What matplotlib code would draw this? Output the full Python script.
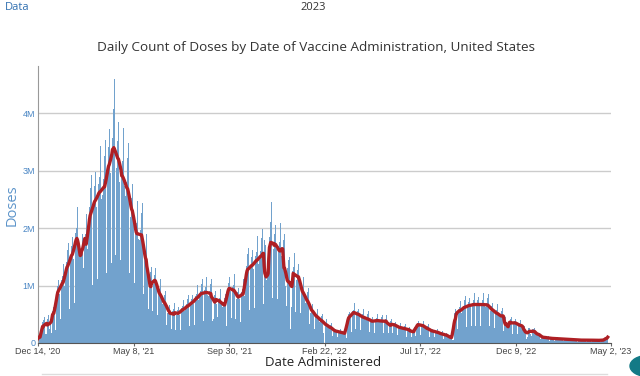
import matplotlib
matplotlib.use('Agg')
import numpy as np
import pandas as pd
import matplotlib.pyplot as plt
from matplotlib.patches import Circle

# daily doses, thousands, one row per week (Mon..Sun), starting Mon Dec 14 2020
weekly_rows_k = [
    [10, 60, 110, 140, 170, 120, 90],
    [360, 400, 420, 450, 150, 280, 150],
    [420, 460, 480, 250, 210, 330, 180],
    [490, 550, 570, 620, 680, 490, 230],
    [860, 960, 1000, 1090, 1180, 860, 410],
    [1000, 1100, 1160, 1260, 1370, 1000, 470],
    [1270, 1410, 1470, 1610, 1740, 1270, 600],
    [1460, 1620, 1690, 1850, 2000, 1460, 690],
    [1730, 1910, 2000, 2180, 2370, 1730, 820],
    [1500, 1550, 1500, 1650, 1900, 1800, 1300],
    [1630, 1810, 1890, 2060, 2240, 1630, 770],
    [2140, 2360, 2480, 2700, 2930, 2140, 1010],
    [2360, 2600, 2730, 2980, 3220, 2360, 1120],
    [2500, 2760, 2890, 3160, 3420, 2500, 1180],
    [2580, 2860, 2990, 3260, 3540, 2580, 1220],
    [2950, 3260, 3410, 3720, 4030, 2950, 1400],
    [3230, 3570, 3740, 4080, 4600, 3050, 1530],
    [3040, 3360, 3520, 3840, 4400, 2800, 1440],
    [2740, 3020, 3170, 3460, 3740, 2740, 1300],
    [2550, 2810, 2950, 3220, 3480, 2550, 1210],
    [2190, 2420, 2530, 2760, 2990, 2190, 1040],
    [1810, 2000, 2090, 2280, 2470, 1810, 860],
    [1790, 1970, 2070, 2260, 2440, 1790, 850],
    [1380, 1520, 1600, 1740, 1890, 1380, 650],
    [600, 1080, 1110, 1230, 1320, 960, 560],
    [1030, 1130, 1190, 1300, 1400, 1030, 490],
    [810, 890, 940, 1020, 1110, 810, 380],
    [670, 740, 770, 840, 910, 670, 320],
    [520, 580, 610, 660, 720, 520, 250],
    [300, 560, 590, 640, 690, 500, 220],
    [490, 550, 570, 620, 680, 490, 230],
    [550, 610, 640, 700, 750, 550, 260],
    [610, 670, 700, 770, 830, 610, 290],
    [670, 740, 770, 840, 910, 670, 320],
    [740, 820, 860, 940, 1010, 740, 350],
    [820, 900, 950, 1030, 1120, 820, 390],
    [840, 920, 970, 1060, 1140, 840, 400],
    [820, 900, 950, 1030, 1120, 820, 390],
    [420, 790, 830, 900, 970, 680, 450],
    [680, 760, 790, 860, 940, 680, 320],
    [630, 690, 730, 790, 860, 630, 300],
    [900, 1000, 1050, 1140, 1240, 900, 430],
    [870, 970, 1010, 1100, 1200, 870, 410],
    [760, 840, 880, 960, 1040, 760, 360],
    [810, 890, 940, 1020, 1110, 810, 380],
    [1220, 1340, 1410, 1540, 1660, 1220, 580],
    [1280, 1420, 1490, 1620, 1760, 1280, 610],
    [1370, 1510, 1580, 1730, 1870, 1370, 650],
    [1440, 1600, 1670, 1820, 1980, 1440, 680],
    [1500, 1800, 1700, 300, 1100, 1200, 450],
    [1660, 1840, 1930, 2100, 2450, 1490, 790],
    [1630, 1810, 1890, 2060, 2240, 1630, 770],
    [1520, 1680, 1760, 1920, 2080, 1520, 720],
    [1600, 1800, 1850, 1900, 1000, 300, 650],
    [1300, 1450, 1450, 1500, 850, 250, 620],
    [1140, 1260, 1320, 1440, 1560, 1140, 540],
    [1090, 1210, 1270, 1380, 1500, 1090, 520],
    [840, 920, 970, 1060, 1140, 840, 400],
    [690, 770, 800, 880, 950, 690, 330],
    [530, 590, 620, 670, 730, 530, 250],
    [440, 480, 510, 550, 600, 440, 210],
    [370, 410, 430, 470, 510, 370, 180],
    [300, 340, 350, 380, 420, 300, 140],
    [260, 280, 300, 320, 350, 260, 120],
    [200, 220, 230, 250, 270, 200, 100],
    [180, 200, 210, 230, 250, 180, 90],
    [160, 180, 190, 200, 220, 160, 80],
    [430, 470, 500, 540, 590, 430, 200],
    [500, 560, 580, 640, 690, 500, 240],
    [480, 520, 550, 600, 650, 480, 220],
    [430, 470, 500, 540, 590, 430, 200],
    [400, 440, 460, 500, 550, 400, 190],
    [360, 400, 420, 460, 490, 360, 170],
    [370, 410, 430, 470, 510, 370, 180],
    [360, 400, 420, 460, 490, 360, 170],
    [360, 400, 420, 460, 490, 360, 170],
    [180, 350, 360, 390, 410, 300, 180],
    [290, 330, 340, 370, 400, 290, 140],
    [260, 280, 300, 320, 350, 260, 120],
    [240, 260, 280, 300, 330, 240, 110],
    [220, 240, 250, 280, 300, 220, 100],
    [100, 220, 230, 250, 270, 200, 130],
    [300, 340, 350, 380, 420, 300, 140],
    [290, 320, 330, 360, 390, 290, 130],
    [240, 260, 280, 300, 330, 240, 110],
    [200, 220, 230, 250, 270, 200, 100],
    [180, 200, 210, 230, 250, 180, 90],
    [150, 170, 180, 190, 210, 150, 70],
    [130, 150, 150, 170, 180, 130, 60],
    [100, 100, 110, 120, 130, 90, 50],
    [60, 380, 520, 600, 660, 480, 240],
    [530, 590, 620, 670, 730, 530, 250],
    [590, 650, 680, 740, 810, 590, 280],
    [620, 680, 720, 780, 850, 620, 290],
    [640, 700, 740, 800, 870, 640, 300],
    [640, 700, 740, 800, 870, 640, 300],
    [640, 700, 740, 800, 870, 640, 300],
    [630, 690, 730, 790, 860, 630, 300],
    [550, 610, 640, 700, 750, 550, 260],
    [490, 550, 570, 620, 680, 490, 230],
    [450, 490, 520, 560, 610, 450, 210],
    [460, 500, 450, 60, 300, 280, 260],
    [330, 370, 380, 420, 460, 330, 160],
    [330, 370, 380, 420, 460, 330, 160],
    [290, 330, 340, 370, 400, 290, 140],
    [280, 300, 300, 290, 200, 100, 70],
    [100, 250, 260, 260, 240, 160, 130],
    [130, 240, 250, 260, 260, 170, 90],
    [140, 160, 170, 180, 200, 140, 70],
    [100, 100, 110, 120, 130, 90, 50],
    [90, 95, 100, 110, 115, 85, 35],
    [76, 84, 88, 96, 104, 76, 36],
    [71, 79, 83, 90, 98, 71, 33],
    [67, 74, 77, 84, 91, 67, 32],
    [62, 68, 72, 78, 85, 62, 29],
    [57, 63, 66, 72, 78, 57, 27],
    [52, 58, 61, 66, 72, 52, 24],
    [48, 53, 55, 60, 65, 48, 22],
    [48, 53, 55, 60, 65, 48, 22],
    [48, 53, 55, 60, 65, 48, 22],
    [46, 50, 53, 58, 62, 46, 21],
    [44, 48, 51, 55, 60, 44, 20],
    [48, 53, 55, 60, 65, 48, 22],
    [80, 95, 110, 120],
]

start_date = '2020-12-14'
tick_dates = ['2020-12-14', '2021-05-08', '2021-09-30', '2022-02-22',
              '2022-07-17', '2022-12-09', '2023-05-02']
tick_labels = ["Dec 14, '20", "May 8, '21", "Sep 30, '21", "Feb 22, '22",
               "Jul 17, '22", "Dec 9, '22", "May 2, '23"]
y_ticks = [0, 1e6, 2e6, 3e6, 4e6]
y_labels = ['0', '1M', '2M', '3M', '4M']

doses = np.array([v for row in weekly_rows_k for v in row]) * 1000
dates = pd.date_range(start_date, periods=len(doses), freq='D')
avg7 = pd.Series(doses, index=dates).rolling(7, center=True, min_periods=4).mean()

fig = plt.figure(figsize=(6.4, 3.76), dpi=100)
ax = fig.add_axes([38/640, 33/376, 573/640, 277/376])

ax.bar(dates, doses, width=1.0, color='#72a2cd', linewidth=0, zorder=2)
ax.plot(avg7.index, avg7.values, color='#ae1f24', lw=2.4, zorder=3,
        solid_joinstyle='round')

ax.set_xlim(pd.Timestamp(tick_dates[0]), pd.Timestamp(tick_dates[-1]))
ax.set_ylim(0, 4.82e6)
ax.set_yticks(y_ticks)
ax.set_yticklabels(y_labels, color='#4a86c4', fontsize=6.5, family='Liberation Sans')
ax.set_xticks(pd.to_datetime(tick_dates))
ax.set_xticklabels(tick_labels, color='#444444', fontsize=6.5, family='Liberation Sans')
ax.tick_params(axis='y', length=0, pad=2)
ax.tick_params(axis='x', length=2.5, color='#666666', pad=0.5)

ax.grid(axis='y', color='#cccccc', lw=1, zorder=0)
ax.set_axisbelow(True)
for s in ['top', 'right']:
    ax.spines[s].set_visible(False)
ax.spines['left'].set_color('#999999')
ax.spines['bottom'].set_color('#555555')

fig.text(316/640, 1 - 48/376, 'Daily Count of Doses by Date of Vaccine Administration, United States',
         ha='center', va='center', fontsize=9.7, color='#333333', family='Open Sans')
fig.text(12/640, 1 - 205/376, 'Doses', rotation=90, ha='center', va='center',
         fontsize=10.5, color='#5b93c9', family='Open Sans')
fig.text(323/640, 1 - 363/376, 'Date Administered', ha='center', va='center',
         fontsize=9.5, color='#222222', family='Open Sans')
fig.text(5/640, 1 - 8/376, 'Data', ha='left', va='center', fontsize=8,
         color='#2f6fb0', family='Open Sans')
fig.text(313/640, 1 - 8/376, '2023', ha='center', va='center', fontsize=8,
         color='#333333', family='Open Sans')

# page bits around the chart
fig.add_artist(plt.Line2D([42/640, 607/640], [1 - 373.5/376, 1 - 373.5/376],
                          color='#dddddd', lw=1))
fig.add_artist(Circle((648/640, 1 - 366/376), 18/640, transform=fig.transFigure,
                      color='#137a86', clip_on=False))

fig.savefig('out.png', dpi=100)
